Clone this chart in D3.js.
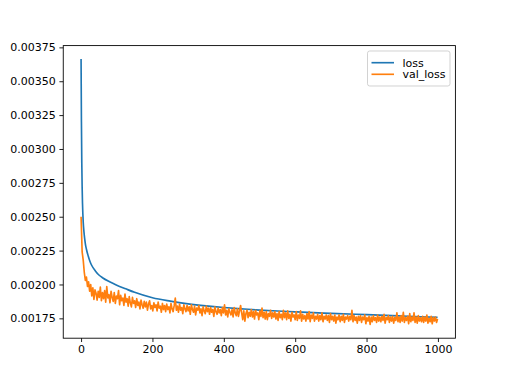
<!DOCTYPE html>
<html>
<head>
<meta charset="utf-8">
<script src="https://cdn.jsdelivr.net/npm/d3@7"></script>
<style>
  body { margin: 0; background: #fff; }
  svg { display: block; }
  text { font-family: "DejaVu Sans", sans-serif; }
</style>
</head>
<body>
<svg id="chart" width="506" height="380"></svg>
<script>
// training history
const lossEpochs = [0, 1, 2, 3, 4, 5, 6, 8, 10, 12, 15, 20, 25, 30, 40, 50, 60, 80, 100, 125,
  150, 200, 250, 300, 350, 400, 450, 500, 550, 600, 650, 700, 800, 900, 999];
const lossValues = [0.003665, 0.00320, 0.00290, 0.00272, 0.00260, 0.00252, 0.00246, 0.00239, 0.00234, 0.00230,
  0.00226, 0.00221, 0.00217, 0.00214, 0.00210, 0.00207, 0.00205, 0.00202, 0.001995, 0.001968,
  0.001942, 0.001902, 0.001877, 0.001857, 0.001842, 0.001830, 0.001820, 0.001811, 0.001804, 0.001798,
  0.001792, 0.001787, 0.001777, 0.001767, 0.001757];

// val_loss sampled every 3rd epoch (0, 3, 6, ... 999)
const valStep = 3;
const valLoss = [
  0.002500, 0.002240, 0.002180, 0.002090, 0.002030, 0.002055, 0.001985, 0.002020, 0.001950, 0.002000,
  0.001915, 0.001975, 0.001890, 0.001960, 0.001935, 0.001885, 0.001950, 0.001905, 0.001980, 0.001880,
  0.001940, 0.001895, 0.001955, 0.001870, 0.001985, 0.001900, 0.001925, 0.001865, 0.001950, 0.001905,
  0.001875, 0.001940, 0.001860, 0.001915, 0.001895, 0.001955, 0.001850, 0.001920, 0.001880, 0.001900,
  0.001845, 0.001930, 0.001870, 0.001895, 0.001840, 0.001910, 0.001865, 0.001835, 0.001905, 0.001860,
  0.001880, 0.001830, 0.001895, 0.001845, 0.001870, 0.001820, 0.001885, 0.001850, 0.001825, 0.001875,
  0.001835, 0.001870, 0.001810, 0.001855, 0.001880, 0.001820, 0.001845, 0.001805, 0.001865, 0.001830,
  0.001850, 0.001805, 0.001870, 0.001825, 0.001840, 0.001795, 0.001860, 0.001815, 0.001845, 0.001800,
  0.001855, 0.001815, 0.001835, 0.001790, 0.001860, 0.001820, 0.001800, 0.001845, 0.001900, 0.001810,
  0.001840, 0.001795, 0.001855, 0.001810, 0.001830, 0.001785, 0.001850, 0.001820, 0.001800, 0.001845,
  0.001805, 0.001835, 0.001780, 0.001850, 0.001815, 0.001795, 0.001840, 0.001775, 0.001825, 0.001810,
  0.001845, 0.001790, 0.001820, 0.001770, 0.001835, 0.001805, 0.001785, 0.001840, 0.001800, 0.001825,
  0.001780, 0.001830, 0.001795, 0.001815, 0.001765, 0.001835, 0.001800, 0.001780, 0.001825, 0.001790,
  0.001815, 0.001770, 0.001830, 0.001790, 0.001850, 0.001775, 0.001810, 0.001760, 0.001820, 0.001795,
  0.001775, 0.001815, 0.001760, 0.001830, 0.001790, 0.001770, 0.001820, 0.001765, 0.001805, 0.001845,
  0.001790, 0.001740, 0.001805, 0.001730, 0.001785, 0.001810, 0.001755, 0.001795, 0.001765, 0.001815,
  0.001760, 0.001800, 0.001745, 0.001810, 0.001775, 0.001790, 0.001740, 0.001805, 0.001765, 0.001825,
  0.001755, 0.001795, 0.001745, 0.001800, 0.001740, 0.001785, 0.001765, 0.001810, 0.001750, 0.001790,
  0.001760, 0.001800, 0.001745, 0.001785, 0.001735, 0.001800, 0.001755, 0.001780, 0.001740, 0.001810,
  0.001755, 0.001790, 0.001740, 0.001805, 0.001750, 0.001780, 0.001730, 0.001795, 0.001760, 0.001775,
  0.001740, 0.001800, 0.001735, 0.001775, 0.001750, 0.001805, 0.001730, 0.001780, 0.001745, 0.001770,
  0.001730, 0.001785, 0.001745, 0.001800, 0.001725, 0.001775, 0.001750, 0.001790, 0.001730, 0.001765,
  0.001745, 0.001780, 0.001730, 0.001770, 0.001740, 0.001790, 0.001725, 0.001765, 0.001745, 0.001775,
  0.001735, 0.001770, 0.001720, 0.001785, 0.001740, 0.001765, 0.001730, 0.001775, 0.001715, 0.001760,
  0.001740, 0.001775, 0.001725, 0.001765, 0.001735, 0.001780, 0.001720, 0.001760, 0.001745, 0.001770,
  0.001730, 0.001765, 0.001740, 0.001810, 0.001725, 0.001770, 0.001735, 0.001760, 0.001715, 0.001765,
  0.001735, 0.001770, 0.001720, 0.001760, 0.001740, 0.001775, 0.001710, 0.001755, 0.001730, 0.001765,
  0.001705, 0.001760, 0.001725, 0.001770, 0.001735, 0.001755, 0.001720, 0.001775, 0.001730, 0.001760,
  0.001725, 0.001765, 0.001735, 0.001780, 0.001715, 0.001755, 0.001740, 0.001770, 0.001720, 0.001760,
  0.001730, 0.001765, 0.001715, 0.001755, 0.001735, 0.001790, 0.001725, 0.001760, 0.001720, 0.001770,
  0.001730, 0.001795, 0.001720, 0.001755, 0.001735, 0.001765, 0.001710, 0.001785, 0.001725, 0.001760,
  0.001735, 0.001790, 0.001720, 0.001760, 0.001715, 0.001770, 0.001730, 0.001755, 0.001725, 0.001765,
  0.001720, 0.001760, 0.001730, 0.001775, 0.001715, 0.001750, 0.001725, 0.001765, 0.001710, 0.001755,
  0.001730, 0.001760, 0.001720, 0.001745
];

const xTicks = [0, 200, 400, 600, 800, 1000];
const yTicks = [0.00175, 0.00200, 0.00225, 0.00250, 0.00275, 0.00300, 0.00325, 0.00350, 0.00375];
const seriesNames = ["loss", "val_loss"];
const seriesColors = ["#1f77b4", "#ff7f0e"];

// axes box (matplotlib default subplot params at 506x380)
const boxLeft = 63.25, boxRight = 455.4, boxTop = 45.6, boxBottom = 338.2;

const svg = d3.select("#chart");
svg.append("rect").attr("width", 506).attr("height", 380).attr("fill", "#fff");

const x = d3.scaleLinear().domain([-49.95, 1048.95]).range([boxLeft, boxRight]);
const y = d3.scaleLinear().domain([0.0016035, 0.003763]).range([boxBottom, boxTop]);

svg.append("defs").append("clipPath").attr("id", "plotclip")
  .append("rect")
  .attr("x", boxLeft).attr("y", boxTop)
  .attr("width", boxRight - boxLeft).attr("height", boxBottom - boxTop);

const lossData = lossEpochs.map((e, i) => [e, lossValues[i]]);
const valData = valLoss.map((v, i) => [i * valStep, v]);

const line = d3.line()
  .x(d => x(d[0]))
  .y(d => y(d[1]));

const plot = svg.append("g").attr("clip-path", "url(#plotclip)");

plot.append("path")
  .datum(lossData)
  .attr("d", line.curve(d3.curveMonotoneX))
  .attr("fill", "none")
  .attr("stroke", seriesColors[0])
  .attr("stroke-width", 1.65)
  .attr("stroke-linejoin", "round");

plot.append("path")
  .datum(valData)
  .attr("d", line.curve(d3.curveLinear))
  .attr("fill", "none")
  .attr("stroke", seriesColors[1])
  .attr("stroke-width", 1.65)
  .attr("stroke-linejoin", "round");

// axes
const tickLen = 3.84, tickPad = 3.6;

const xAxis = svg.append("g")
  .attr("transform", `translate(0,${boxBottom})`)
  .call(d3.axisBottom(x).tickValues(xTicks).tickFormat(d3.format("d"))
    .tickSize(tickLen).tickPadding(tickPad));

const yAxis = svg.append("g")
  .attr("transform", `translate(${boxLeft},0)`)
  .call(d3.axisLeft(y).tickValues(yTicks).tickFormat(d3.format(".5f"))
    .tickSize(tickLen).tickPadding(tickPad));

[xAxis, yAxis].forEach(a => {
  a.select(".domain").remove();
  a.selectAll(".tick line").attr("stroke", "#000").attr("stroke-width", 0.88);
  a.selectAll(".tick text")
    .attr("fill", "#000")
    .style("font-family", "'DejaVu Sans', sans-serif")
    .style("font-size", "11px");
});

// frame
svg.append("rect")
  .attr("x", boxLeft).attr("y", boxTop)
  .attr("width", boxRight - boxLeft).attr("height", boxBottom - boxTop)
  .attr("fill", "none")
  .attr("stroke", "#000")
  .attr("stroke-width", 0.88);

// legend
const legend = svg.append("g").attr("transform", "translate(367.5,51)");
legend.append("rect")
  .attr("width", 82.5).attr("height", 35)
  .attr("rx", 2.2)
  .attr("fill", "#fff").attr("fill-opacity", 0.8)
  .attr("stroke", "#cccccc").attr("stroke-width", 0.88);

seriesNames.forEach((name, i) => {
  const row = legend.append("g").attr("transform", `translate(0,${11.7 + i * 11.6})`);
  row.append("line")
    .attr("x1", 4).attr("x2", 26.5)
    .attr("stroke", seriesColors[i]).attr("stroke-width", 1.65);
  row.append("text")
    .attr("x", 35).attr("dy", "0.35em")
    .style("font-size", "11px")
    .attr("fill", "#000")
    .text(name);
});
</script>
</body>
</html>
